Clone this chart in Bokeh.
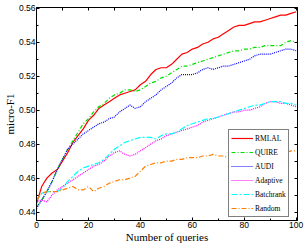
from bokeh.plotting import figure
from bokeh.models import Range1d, LinearAxis, SingleIntervalTicker, FixedTicker, PrintfTickFormatter
from bokeh.embed import file_html
from bokeh.resources import INLINE

queries = list(range(0, 101, 2))

rmlal = [0.445, 0.455, 0.460, 0.463, 0.465, 0.470, 0.475, 0.481, 0.485, 0.489,
         0.494, 0.497, 0.501, 0.503, 0.505, 0.507, 0.509, 0.510, 0.511, 0.512,
         0.515, 0.517, 0.521, 0.524, 0.525, 0.525, 0.527, 0.530, 0.533, 0.534,
         0.536, 0.537, 0.539, 0.540, 0.542, 0.543, 0.545, 0.547, 0.549, 0.550,
         0.550, 0.551, 0.552, 0.552, 0.553, 0.554, 0.555, 0.556, 0.556, 0.557, 0.558]
quire = [0.443, 0.447, 0.452, 0.458, 0.465, 0.471, 0.477, 0.482, 0.487, 0.492,
         0.495, 0.499, 0.502, 0.504, 0.507, 0.509, 0.510, 0.512, 0.512, 0.511,
         0.512, 0.514, 0.516, 0.517, 0.519, 0.520, 0.522, 0.524, 0.526, 0.526,
         0.527, 0.528, 0.529, 0.530, 0.531, 0.532, 0.533, 0.534, 0.535, 0.535,
         0.536, 0.536, 0.537, 0.537, 0.538, 0.538, 0.538, 0.538, 0.540, 0.541, 0.540]
audi = [0.442, 0.447, 0.452, 0.458, 0.465, 0.471, 0.477, 0.480, 0.483, 0.486,
        0.488, 0.490, 0.492, 0.493, 0.495, 0.496, 0.499, 0.501, 0.503, 0.501,
        0.502, 0.505, 0.507, 0.509, 0.512, 0.514, 0.516, 0.519, 0.521, 0.521,
        0.521, 0.522, 0.524, 0.525, 0.524, 0.525, 0.526, 0.526, 0.527, 0.528,
        0.529, 0.530, 0.532, 0.533, 0.533, 0.533, 0.534, 0.535, 0.536, 0.536, 0.535]
adaptive = [0.446, 0.447, 0.446, 0.450, 0.453, 0.455, 0.457, 0.459, 0.461, 0.463,
            0.465, 0.467, 0.468, 0.470, 0.473, 0.475, 0.476, 0.474, 0.473, 0.474,
            0.476, 0.478, 0.480, 0.482, 0.483, 0.485, 0.486, 0.487, 0.488, 0.489,
            0.490, 0.491, 0.493, 0.494, 0.495, 0.496, 0.497, 0.498, 0.499, 0.499,
            0.500, 0.500, 0.501, 0.502, 0.504, 0.505, 0.505, 0.504, 0.504, 0.503, 0.502]
batchrank = [0.447, 0.451, 0.452, 0.452, 0.452, 0.454, 0.458, 0.461, 0.464, 0.466,
             0.467, 0.468, 0.469, 0.471, 0.474, 0.477, 0.479, 0.481, 0.482, 0.483,
             0.484, 0.484, 0.484, 0.483, 0.485, 0.486, 0.486, 0.487, 0.489, 0.491,
             0.492, 0.493, 0.494, 0.495, 0.495, 0.496, 0.497, 0.498, 0.499, 0.500,
             0.501, 0.502, 0.503, 0.503, 0.504, 0.505, 0.505, 0.505, 0.504, 0.504, 0.503]
random_ = [0.447, 0.451, 0.452, 0.452, 0.452, 0.453, 0.454, 0.455, 0.453, 0.453,
           0.455, 0.452, 0.454, 0.455, 0.457, 0.458, 0.459, 0.459, 0.460, 0.461,
           0.464, 0.467, 0.468, 0.469, 0.469, 0.470, 0.470, 0.471, 0.471, 0.472,
           0.472, 0.472, 0.473, 0.473, 0.474, 0.473, 0.473, 0.472, 0.473, 0.474,
           0.474, 0.474, 0.474, 0.475, 0.475, 0.475, 0.475, 0.475, 0.475, 0.476, 0.476]

series_names = ["RMLAL", "QUIRE", "AUDI", "Adaptive", "Batchrank", "Random"]
series_values = [rmlal, quire, audi, adaptive, batchrank, random_]
colors = ["#ff0000", "#00e000", "#0000ff", "#ff00ff", "#00ffff", "#ff8000"]
dashes = ["solid", "4 2 1 2", "1 1", "1 1", "6 2 2 2", "5 2 1 2"]

x_minor = [0, 10, 20, 30, 40, 50, 60, 70, 80, 90, 100]
y_minor = [0.44, 0.45, 0.46, 0.47, 0.48, 0.49, 0.50, 0.51, 0.52, 0.53, 0.54, 0.55, 0.56]

p = figure(width=305, height=249, output_backend="svg", toolbar_location=None,
           x_range=Range1d(0, 100.5), y_range=Range1d(0.435, 0.5605),
           min_border_left=35, min_border_right=8, min_border_top=7, min_border_bottom=29)
p.background_fill_color = "white"
p.xgrid.visible = False
p.ygrid.visible = False
p.outline_line_color = "black"

for name, vals, c, d in zip(series_names, series_values, colors, dashes):
    p.line(queries, vals, line_color=c, line_width=1.2, line_dash=d, legend_label=name)

def style(ax):
    ax.axis_line_color = "black"
    ax.major_tick_in = 3
    ax.major_tick_out = 0
    ax.minor_tick_in = 2
    ax.minor_tick_out = 0
    ax.major_tick_line_color = "black"
    ax.minor_tick_line_color = "black"
    ax.major_label_text_font = "Liberation Sans"
    ax.major_label_text_font_size = "8.5px"
    ax.major_label_text_color = "black"
    ax.major_label_standoff = 1
    ax.axis_label_text_font = "Liberation Serif"
    ax.axis_label_text_font_style = "normal"
    ax.axis_label_text_font_size = "11px"
    ax.axis_label_text_color = "black"
    ax.axis_label_standoff = 0

p.xaxis.ticker = SingleIntervalTicker(interval=20, num_minor_ticks=2)
p.yaxis.ticker = SingleIntervalTicker(interval=0.02, num_minor_ticks=2)
p.yaxis.formatter = PrintfTickFormatter(format="%.2f")
style(p.xaxis[0])
style(p.yaxis[0])
p.xaxis.axis_label = "Number of queries"
p.yaxis.axis_label = "micro-F1"

top = LinearAxis(ticker=FixedTicker(ticks=[], minor_ticks=x_minor))
style(top)
top.minor_tick_in = 3
p.add_layout(top, "above")
right = LinearAxis(ticker=FixedTicker(ticks=[], minor_ticks=y_minor))
style(right)
right.minor_tick_in = 3
p.add_layout(right, "right")

lg = p.legend[0]
lg.location = (192, 3)
lg.label_text_font = "Liberation Serif"
lg.label_text_font_size = "7.5px"
lg.label_text_color = "black"
lg.glyph_width = 22
lg.glyph_height = 12
lg.label_height = 12
lg.label_standoff = 2
lg.spacing = 2
lg.padding = 2
lg.margin = 0
lg.border_line_color = "black"
lg.border_line_width = 1
lg.background_fill_color = "white"
lg.background_fill_alpha = 1.0

open("out.html", "w").write(file_html(p, INLINE))
